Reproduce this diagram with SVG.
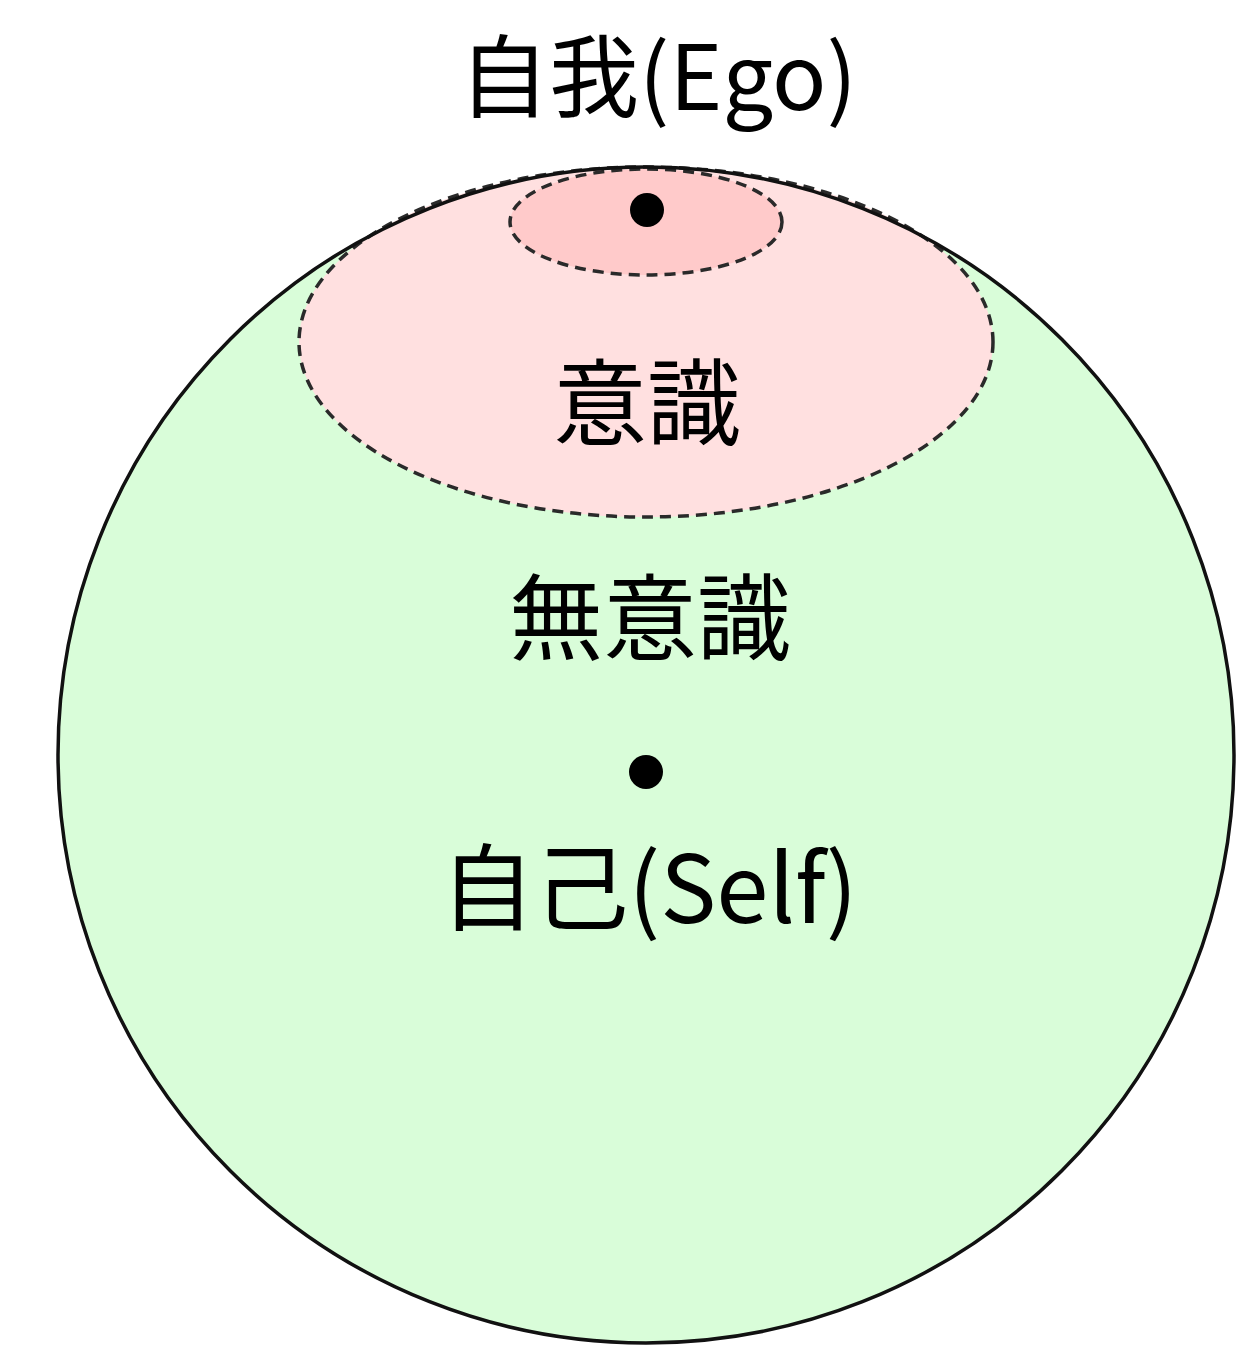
<svg xmlns="http://www.w3.org/2000/svg" width="1256" height="1346" viewBox="0 0 1256 1346">
<style>
.lbl{font-family:"Noto Sans CJK JP","Noto Sans CJK SC",sans-serif;font-size:94px;fill:#000;text-anchor:middle}
.dash{stroke:#2a2a2a;stroke-width:3.5;stroke-dasharray:11 7}
</style>
<rect width="1256" height="1346" fill="#fff"/>
<g id="self-sphere">
<circle cx="646" cy="755" r="588" fill="#d9fdd9"/>
</g>
<g id="consciousness">
<ellipse cx="646" cy="342" rx="347" ry="175" fill="#ffe0e0" class="dash"/>
</g>
<g id="ego-region">
<ellipse cx="646" cy="222" rx="136" ry="53" fill="#ffcaca" class="dash"/>
</g>
<g id="sphere-outline">
<circle cx="646" cy="755" r="588" fill="none" stroke="#111" stroke-width="3.5"/>
</g>
<g id="ego">
<circle cx="647" cy="210" r="17" fill="#000"/>
<text class="lbl" x="658" y="110" style="font-size:90px">自我(Ego)</text>
</g>
<g id="conscious-label">
<text class="lbl" x="647" y="438">意識</text>
</g>
<g id="unconscious-label">
<text class="lbl" x="650" y="653">無意識</text>
</g>
<g id="self">
<circle cx="646" cy="772" r="17" fill="#000"/>
<text class="lbl" x="649" y="923">自己(Self)</text>
</g>
</svg>
